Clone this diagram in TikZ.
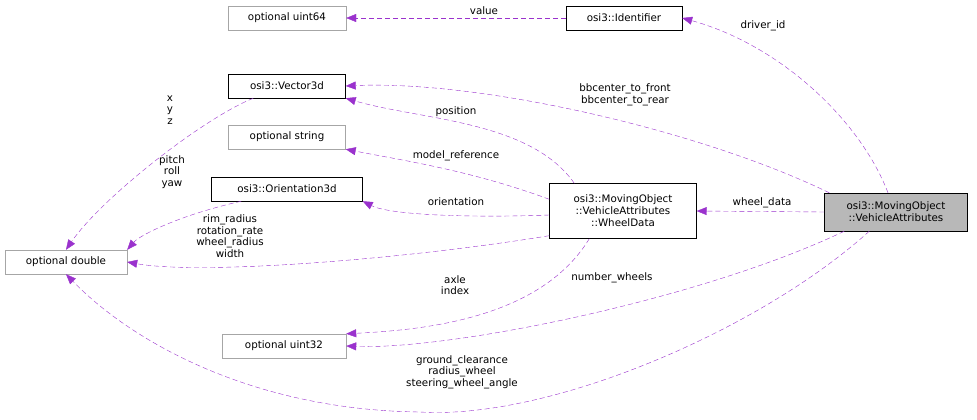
\documentclass[tikz,border=0pt]{standalone}
\usepackage{fontspec}
\setmainfont{DejaVu Sans}
\usetikzlibrary{shapes,arrows.meta}
\definecolor{edgecol}{HTML}{9A32CD}
\tikzstyle{block} = [draw, rectangle, inner sep=2pt,
    minimum height=24pt, align=center, font=\fontsize{10.3}{12}\selectfont]
\tikzstyle{ext} = [block, draw=black!35]
\tikzstyle{lbl} = [align=center, font=\fontsize{10.3}{11.5}\selectfont, inner sep=0pt]
\tikzstyle{dep} = [draw=edgecol, dash pattern=on5pt off3pt, -{Triangle[length=10pt,width=8pt,fill=edgecol]}]

\begin{document}
\begin{tikzpicture}[x=1pt,y=-1pt]
\useasboundingbox (0,0) rectangle (977,420);

\node[ext, name=u64, minimum width=118pt] at (287,18) {optional uint64};
\node[block, name=ident, minimum width=116pt] at (624,18) {osi3::Identifier};
\node[block, name=vec, minimum width=117pt] at (287,86) {osi3::Vector3d};
\node[ext, name=str, minimum width=117pt] at (287,137) {optional string};
\node[block, name=ori, minimum width=151pt] at (287,189) {osi3::Orientation3d};
\node[ext, name=dbl, minimum width=122pt] at (66,262) {optional double};
\node[ext, name=u32, minimum width=124pt] at (284,346) {optional uint32};
\node[block, name=wheel, minimum width=147pt, minimum height=55pt] at (623,211)
  {osi3::MovingObject\\::VehicleAttributes\\::WheelData};
\node[block, name=veh, fill=black!28, minimum width=143pt, minimum height=38pt] at (896,212)
  {osi3::MovingObject\\::VehicleAttributes};

% edges from VehicleAttributes
\draw[dep] (veh.north) ++(-8,0) .. controls (860,120) and (780,45) .. (ident.east);
\draw[dep] (veh.north west) ++(5,0) .. controls (700,130) and (480,80) .. (vec.east);
\draw[dep] (veh.west) -- (wheel.east);
\draw[dep] (veh.south west) ++(20,0) .. controls (700,300) and (450,350) .. (u32.east);
\draw[dep] (veh.south west) ++(45,0) .. controls (760,330) and (550,420) .. (420,412)
  .. controls (250,410) and (130,340) .. (dbl.south);

% edges from WheelData
\draw[dep] (wheel.north west) ++(25,0) .. controls (530,120) and (420,120) .. (vec.south east);
\draw[dep] (wheel.north west) ++(0,16) .. controls (470,170) and (400,160) .. (str.south east);
\draw[dep] (wheel.west) ++(0,4) .. controls (470,218) and (390,215) .. (ori.south east);
\draw[dep] (wheel.south west) ++(0,-3) .. controls (400,260) and (200,275) .. (dbl.east);
\draw[dep] (wheel.south west) ++(40,0) .. controls (540,320) and (420,330) .. (u32.north east);

% other edges
\draw[dep] (ident.west) -- (u64.east);
\draw[dep] (vec.south west) ++(25,0) .. controls (200,120) and (100,200) .. (dbl.north);
\draw[dep] (ori.south west) ++(30,0) .. controls (180,215) and (140,235) .. (dbl.north east);

\node[lbl] at (484,11) {value};
\node[lbl] at (763,26) {driver\_id};
\node[lbl] at (625,95) {bbcenter\_to\_front\\bbcenter\_to\_rear};
\node[lbl] at (456,112) {position};
\node[lbl] at (456,156) {model\_reference};
\node[lbl] at (456,202) {orientation};
\node[lbl] at (762,203) {wheel\_data};
\node[lbl] at (170,110) {x\\y\\z};
\node[lbl] at (172,172) {pitch\\roll\\yaw};
\node[lbl] at (230,236) {rim\_radius\\rotation\_rate\\wheel\_radius\\width};
\node[lbl] at (455,285) {axle\\index};
\node[lbl] at (612,278) {number\_wheels};
\node[lbl] at (462,372) {ground\_clearance\\radius\_wheel\\steering\_wheel\_angle};
\end{tikzpicture}
\end{document}
